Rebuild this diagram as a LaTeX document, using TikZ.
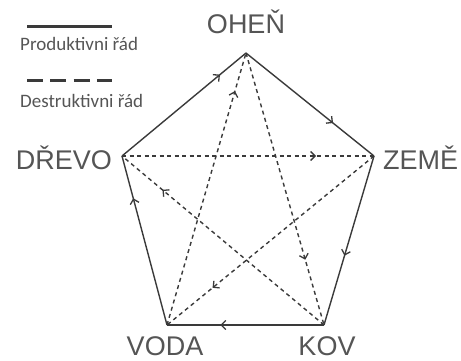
\documentclass[tikz,border=0pt]{standalone}
\usepackage{fontspec}
\setmainfont{Liberation Sans}
\newfontfamily\legendfont{Carlito}
\usetikzlibrary{arrows.meta,decorations.markings}
\definecolor{linec}{HTML}{3A3A3A}
\definecolor{textc}{HTML}{555555}
\tikzset{
  elem/.style={font=\fontsize{27}{29}\selectfont, text=textc, inner sep=0pt},
  legtext/.style={font=\legendfont\fontsize{19}{21}\selectfont, text=textc, inner sep=0pt, anchor=base west},
  prod/.style={draw=linec, line width=1.4pt},
  destr/.style={draw=linec, line width=1.4pt, dash pattern=on 4pt off 3.5pt},
  midarrow/.style={postaction={decorate}, decoration={markings,
     mark=at position #1 with {\arrow[solid,linec]{Straight Barb[length=4.5pt,width=9pt,line width=1.3pt]}}}}
}
\begin{document}
\begin{tikzpicture}[x=1pt,y=-1pt]
\useasboundingbox (0,0) rectangle (461,360);
% vertices
\coordinate (F) at (246,53);
\coordinate (E) at (374,156);
\coordinate (W) at (122,156);
\coordinate (A) at (167,325);
\coordinate (M) at (324,325);
% labels
\node[elem, anchor=base] (lF) at (246,33) {OHEŇ};
\node[elem, anchor=base west] (lE) at (383,169) {ZEMĚ};
\node[elem, anchor=base east] (lW) at (112,169) {DŘEVO};
\node[elem, anchor=base] (lA) at (165,355) {VODA};
\node[elem, anchor=base] (lM) at (327,355) {KOV};
% legend
\coordinate (ls1) at (27,26);
\coordinate (ls2) at (112,26);
\coordinate (ld1) at (27,80);
\coordinate (ld2) at (112,80);
\draw[draw=linec, line width=3pt] (ls1) -- (ls2);
\draw[draw=linec, line width=3pt, dash pattern=on 16pt off 7.3pt] (ld1) -- (ld2);
\node[legtext] (lp) at (20,50) {Produktivni řád};
\node[legtext] (ld) at (20,107) {Destruktivni řád};
% productive cycle
\draw[prod, midarrow=0.79] (W) -- (F);
\draw[prod, midarrow=0.68] (F) -- (E);
\draw[prod, midarrow=0.59] (E) -- (M);
\draw[prod, midarrow=0.66] (M) -- (A);
\draw[prod, midarrow=0.75] (A) -- (W);
% destructive cycle
\draw[destr, midarrow=0.77] (W) -- (E);
\draw[destr, midarrow=0.78] (E) -- (A);
\draw[destr, midarrow=0.86] (A) -- (F);
\draw[destr, midarrow=0.76] (F) -- (M);
\draw[destr, midarrow=0.80] (M) -- (W);
\end{tikzpicture}
\end{document}
